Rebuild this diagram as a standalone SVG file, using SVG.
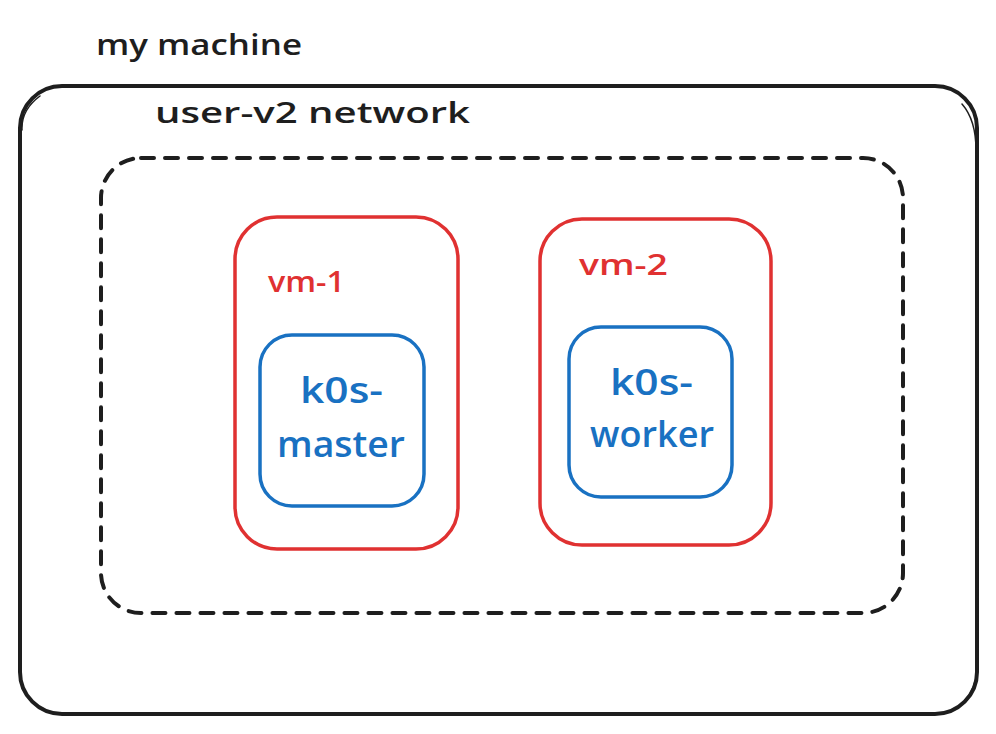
<svg xmlns="http://www.w3.org/2000/svg" width="996" height="734" viewBox="0 0 996 734">
<style>
.box{fill:none;stroke-linecap:round;stroke-linejoin:round}
.blk{stroke:#1e1e1e}
.red{stroke:#e03131}
.blu{stroke:#1971c2}
.t{font-family:"Open Sans","Liberation Sans",sans-serif;font-weight:600}
</style>
<rect width="996" height="734" fill="#ffffff"/>
<g id="my-machine">
<rect class="box blk" x="20" y="86" width="957" height="628" rx="42" stroke-width="4"/>
<path class="box blk" d="M22 130 Q21 110 40 96 M962 104 Q976 120 976 150 L978 660 Q977 700 950 712" stroke-width="1.5"/>
<text class="t" x="96" y="55" font-size="28" fill="#1e1e1e" textLength="206" lengthAdjust="spacingAndGlyphs">my machine</text>
</g>
<g id="user-v2-network">
<rect class="box blk" x="101" y="158" width="802" height="455" rx="40" stroke-width="4" stroke-dasharray="13 11"/>
<text class="t" x="155" y="123" font-size="28" fill="#1e1e1e" textLength="315" lengthAdjust="spacingAndGlyphs">user-v2 network</text>
</g>
<g id="vm-1">
<rect class="box red" x="235" y="217" width="223" height="332" rx="42" stroke-width="3.5"/>
<text class="t" x="268" y="292" font-size="28" fill="#e03131" textLength="77" lengthAdjust="spacingAndGlyphs">vm-1</text>
</g>
<g id="vm-2">
<rect class="box red" x="540" y="219" width="231" height="326" rx="42" stroke-width="3.5"/>
<text class="t" x="579" y="275" font-size="28" fill="#e03131" textLength="89" lengthAdjust="spacingAndGlyphs">vm-2</text>
</g>
<g id="k0s-master">
<rect class="box blu" x="260" y="335" width="164" height="171" rx="32" stroke-width="3.5"/>
<text class="t" x="300" y="403" font-size="36" fill="#1971c2" textLength="83" lengthAdjust="spacingAndGlyphs">k0s-</text>
<text class="t" x="277" y="457" font-size="36" fill="#1971c2" textLength="128" lengthAdjust="spacingAndGlyphs">master</text>
</g>
<g id="k0s-worker">
<rect class="box blu" x="569" y="327" width="163" height="170" rx="32" stroke-width="3.5"/>
<text class="t" x="610" y="395" font-size="36" fill="#1971c2" textLength="83" lengthAdjust="spacingAndGlyphs">k0s-</text>
<text class="t" x="590" y="447" font-size="36" fill="#1971c2" textLength="124" lengthAdjust="spacingAndGlyphs">worker</text>
</g>
<g id="connectors"></g>
</svg>
